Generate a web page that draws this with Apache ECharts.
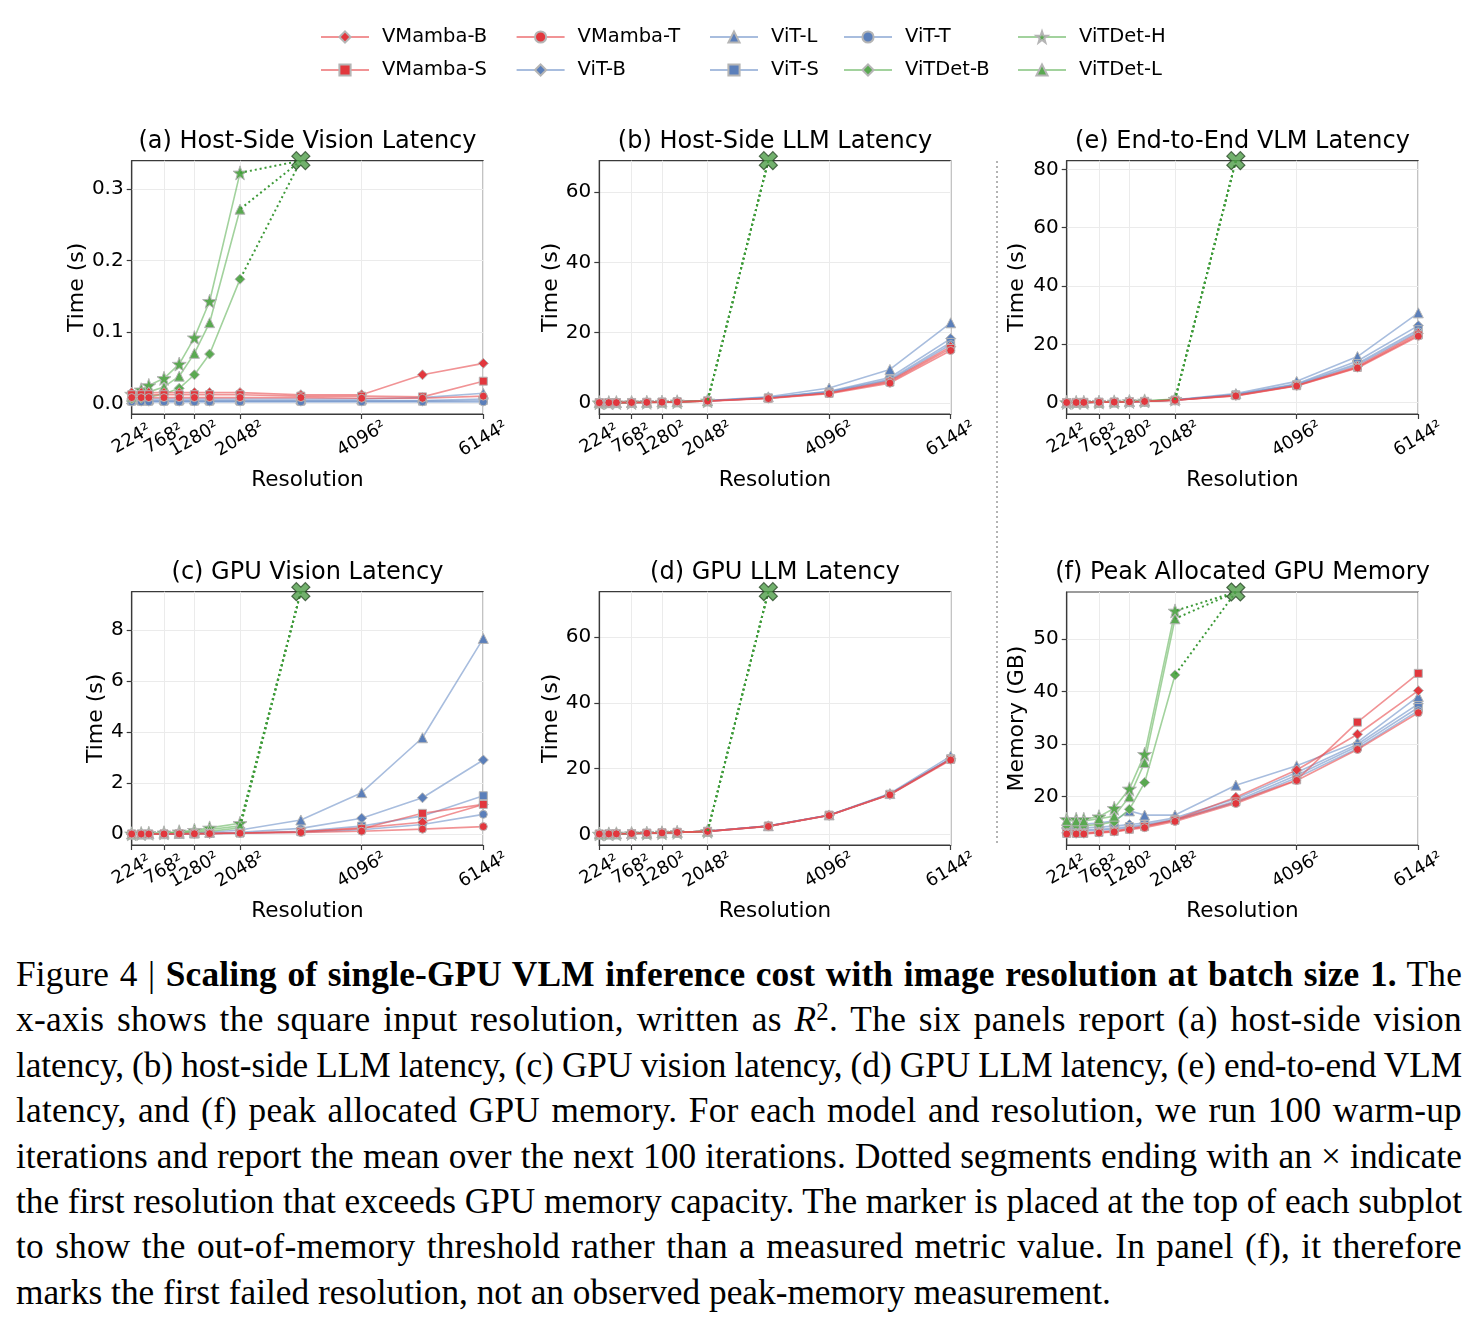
<!DOCTYPE html>
<html>
<head>
<meta charset="utf-8">
<script src="https://cdn.jsdelivr.net/npm/echarts@6/dist/echarts.min.js"></script>
<style>
html,body{margin:0;padding:0;background:#fff;}
#chart{position:absolute;left:0;top:0;width:1477px;height:940px;}
#caption{position:absolute;left:16px;top:952px;width:1446px;font-family:"Liberation Serif","Times New Roman",serif;font-size:35.3px;line-height:45.4px;color:#000;}
#caption .ln{white-space:nowrap;}
#caption sup{font-size:0.7em;line-height:0;vertical-align:0.45em;}
</style>
</head>
<body>
<div id="chart"></div>
<div id="caption">
<div class="ln"><span>Figure 4 | <b>Scaling of single-GPU VLM inference cost with image resolution at batch size 1.</b> The</span></div>
<div class="ln"><span>x-axis shows the square input resolution, written as <i>R</i><sup>2</sup>. The six panels report (a) host-side vision</span></div>
<div class="ln"><span>latency, (b) host-side LLM latency, (c) GPU vision latency, (d) GPU LLM latency, (e) end-to-end VLM</span></div>
<div class="ln"><span>latency, and (f) peak allocated GPU memory. For each model and resolution, we run 100 warm-up</span></div>
<div class="ln"><span>iterations and report the mean over the next 100 iterations. Dotted segments ending with an × indicate</span></div>
<div class="ln"><span>the first resolution that exceeds GPU memory capacity. The marker is placed at the top of each subplot</span></div>
<div class="ln"><span>to show the out-of-memory threshold rather than a measured metric value. In panel (f), it therefore</span></div>
<div class="ln last"><span>marks the first failed resolution, not an observed peak-memory measurement.</span></div>
</div>
<script>
// ---------------- DATA ----------------
const resolutions = [224, 384, 512, 768, 1024, 1280, 1536, 2048, 3072, 4096, 5120, 6144];
const xTickValues = [224, 768, 1280, 2048, 4096, 6144];
const oomResolution = 3072;
const models = ['VMamba-B','VMamba-S','VMamba-T','ViT-B','ViT-L','ViT-S','ViT-T','ViTDet-B','ViTDet-H','ViTDet-L'];
const oomModels = ['ViTDet-B','ViTDet-H','ViTDet-L'];

// (a) Host-side vision latency (s)
const hostVision = {
  'VMamba-B': [0.015,0.015,0.015,0.015,0.015,0.015,0.015,0.015,0.012,0.012,0.040,0.056],
  'VMamba-S': [0.012,0.012,0.012,0.012,0.012,0.012,0.012,0.012,0.010,0.010,0.009,0.031],
  'VMamba-T': [0.008,0.008,0.008,0.008,0.008,0.008,0.008,0.008,0.008,0.007,0.007,0.010],
  'ViT-B':    [0.004,0.004,0.004,0.004,0.004,0.004,0.004,0.004,0.004,0.004,0.004,0.006],
  'ViT-L':    [0.006,0.006,0.006,0.006,0.006,0.006,0.006,0.006,0.006,0.006,0.008,0.014],
  'ViT-S':    [0.003,0.003,0.003,0.003,0.003,0.003,0.003,0.003,0.003,0.003,0.003,0.004],
  'ViT-T':    [0.002,0.002,0.002,0.002,0.002,0.002,0.002,0.002,0.002,0.002,0.002,0.002],
  'ViTDet-B': [0.006,0.007,0.009,0.013,0.021,0.040,0.069,0.174],
  'ViTDet-H': [0.013,0.019,0.025,0.035,0.055,0.092,0.143,0.323],
  'ViTDet-L': [0.009,0.012,0.016,0.023,0.038,0.070,0.113,0.272]
};
// (b) Host-side LLM latency (s)
const hostLLM = {
  'VMamba-B': [0.03,0.04,0.06,0.09,0.13,0.19,0.27,0.52,1.3,2.8,6.2,16.0],
  'VMamba-S': [0.03,0.04,0.05,0.08,0.12,0.18,0.26,0.50,1.3,2.7,5.9,15.5],
  'VMamba-T': [0.03,0.04,0.05,0.08,0.12,0.17,0.25,0.48,1.2,2.6,5.6,14.9],
  'ViT-B':    [0.04,0.05,0.06,0.09,0.14,0.20,0.29,0.56,1.5,3.3,7.2,18.3],
  'ViT-L':    [0.04,0.05,0.07,0.10,0.15,0.22,0.32,0.60,1.7,4.2,9.5,22.8],
  'ViT-S':    [0.03,0.04,0.06,0.09,0.13,0.19,0.28,0.54,1.4,3.1,6.7,17.2],
  'ViT-T':    [0.03,0.04,0.05,0.08,0.13,0.19,0.27,0.52,1.4,3.0,6.4,16.6],
  'ViTDet-B': [0.03,0.04,0.05,0.08,0.12,0.18,0.26,0.50],
  'ViTDet-H': [0.04,0.05,0.06,0.09,0.14,0.20,0.29,0.56],
  'ViTDet-L': [0.03,0.04,0.06,0.09,0.13,0.19,0.28,0.53]
};
// (c) GPU vision latency (s)
const gpuVision = {
  'VMamba-B': [0.01,0.01,0.01,0.015,0.02,0.025,0.03,0.05,0.10,0.25,0.47,1.17],
  'VMamba-S': [0.01,0.01,0.01,0.015,0.02,0.025,0.03,0.05,0.10,0.22,0.82,1.17],
  'VMamba-T': [0.01,0.01,0.01,0.012,0.015,0.02,0.025,0.04,0.07,0.12,0.20,0.30],
  'ViT-B':    [0.01,0.01,0.01,0.015,0.02,0.03,0.04,0.08,0.23,0.63,1.43,2.91],
  'ViT-L':    [0.01,0.01,0.015,0.02,0.03,0.05,0.08,0.17,0.56,1.63,3.78,7.67],
  'ViT-S':    [0.01,0.01,0.01,0.012,0.015,0.02,0.03,0.05,0.12,0.32,0.72,1.51],
  'ViT-T':    [0.01,0.01,0.01,0.012,0.015,0.02,0.025,0.04,0.08,0.18,0.38,0.78],
  'ViTDet-B': [0.01,0.015,0.02,0.03,0.05,0.08,0.12,0.25],
  'ViTDet-H': [0.02,0.03,0.04,0.06,0.10,0.16,0.25,0.43],
  'ViTDet-L': [0.015,0.02,0.03,0.05,0.08,0.12,0.19,0.33]
};
// (d) GPU LLM latency (s)
const gpuLLM = {
  'VMamba-B': [0.10,0.12,0.15,0.25,0.35,0.45,0.60,0.90,2.5,5.8,12.2,22.9],
  'VMamba-S': [0.10,0.12,0.15,0.24,0.34,0.45,0.60,0.90,2.5,5.8,12.1,22.8],
  'VMamba-T': [0.10,0.12,0.15,0.24,0.34,0.44,0.59,0.88,2.4,5.7,12.0,22.6],
  'ViT-B':    [0.10,0.12,0.15,0.25,0.35,0.46,0.61,0.92,2.5,5.8,12.2,23.1],
  'ViT-L':    [0.11,0.13,0.16,0.26,0.36,0.47,0.62,0.95,2.6,5.9,12.4,23.8],
  'ViT-S':    [0.10,0.12,0.15,0.25,0.35,0.45,0.60,0.91,2.5,5.8,12.2,23.0],
  'ViT-T':    [0.10,0.12,0.15,0.25,0.35,0.45,0.60,0.90,2.5,5.8,12.2,22.9],
  'ViTDet-B': [0.10,0.12,0.15,0.25,0.35,0.45,0.60,0.90],
  'ViTDet-H': [0.11,0.13,0.16,0.26,0.36,0.47,0.62,0.95],
  'ViTDet-L': [0.10,0.12,0.15,0.25,0.35,0.46,0.61,0.92]
};
// (e) End-to-end VLM latency (s)
const endToEnd = {
  'VMamba-B': [0.05,0.07,0.09,0.13,0.20,0.30,0.42,0.85,2.5,5.9,12.4,23.8],
  'VMamba-S': [0.05,0.07,0.09,0.13,0.20,0.29,0.41,0.82,2.4,5.8,12.1,23.2],
  'VMamba-T': [0.05,0.06,0.08,0.12,0.19,0.28,0.40,0.80,2.3,5.7,11.9,22.8],
  'ViT-B':    [0.05,0.07,0.09,0.14,0.21,0.32,0.46,0.92,2.8,6.5,14.3,26.4],
  'ViT-L':    [0.06,0.08,0.10,0.15,0.23,0.35,0.50,1.00,3.1,7.3,15.8,30.8],
  'ViT-S':    [0.05,0.07,0.09,0.13,0.21,0.31,0.44,0.88,2.7,6.2,13.4,25.0],
  'ViT-T':    [0.05,0.07,0.09,0.13,0.20,0.30,0.43,0.86,2.6,6.0,12.9,24.3],
  'ViTDet-B': [0.05,0.07,0.09,0.14,0.22,0.34,0.49,0.95],
  'ViTDet-H': [0.07,0.09,0.12,0.18,0.27,0.42,0.60,1.20],
  'ViTDet-L': [0.06,0.08,0.10,0.16,0.25,0.38,0.55,1.10]
};
// (f) Peak allocated GPU memory (GB)
const peakMemory = {
  'VMamba-B': [13.1,13.1,13.1,13.3,13.5,13.9,14.4,15.6,19.9,25.1,31.9,40.2],
  'VMamba-S': [13.0,13.0,13.0,13.2,13.4,13.8,14.3,15.5,19.0,23.2,34.2,43.5],
  'VMamba-T': [12.9,12.9,12.9,13.1,13.3,13.7,14.1,15.3,18.7,23.1,29.0,36.0],
  'ViT-B':    [14.1,14.1,14.1,14.2,14.4,14.7,15.0,16.0,19.6,24.6,30.0,37.7],
  'ViT-L':    [14.8,14.8,14.8,15.0,15.4,17.3,16.5,16.5,22.2,25.9,30.4,39.1],
  'ViT-S':    [13.7,13.7,13.7,13.8,14.0,14.3,14.7,15.7,19.2,24.1,29.6,37.0],
  'ViT-T':    [13.5,13.5,13.5,13.6,13.8,14.1,14.5,15.5,18.9,23.6,29.2,36.4],
  'ViTDet-B': [14.5,14.5,14.5,14.7,15.2,17.6,22.7,43.2],
  'ViTDet-H': [15.7,15.7,15.7,16.2,17.8,21.5,28.1,55.4],
  'ViTDet-L': [15.5,15.4,15.4,15.8,16.3,20.0,26.5,53.9]
};

// y-axis ranges (ceiling = out-of-memory marker level) and tick labels
const yFloors   = [-0.015, -3.2, -3.9, -0.42, -3.25, 10.8];
const yCeilings = [0.34, 69, 83, 9.5, 73.8, 59.0];
const yTicks = [[0,0.1,0.2,0.3],[0,20,40,60],[0,20,40,60,80],[0,2,4,6,8],[0,20,40,60],[20,30,40,50]];
const panelTitles = ['(a) Host-Side Vision Latency','(b) Host-Side LLM Latency','(e) End-to-End VLM Latency','(c) GPU Vision Latency','(d) GPU LLM Latency','(f) Peak Allocated GPU Memory'];
const yNames = ['Time (s)','Time (s)','Time (s)','Time (s)','Time (s)','Memory (GB)'];
const panelData = [hostVision, hostLLM, endToEnd, gpuVision, gpuLLM, peakMemory];

// ---------------- STYLE / LAYOUT ----------------
const FONT = 'DejaVu Sans';
const gridBoxes = [
  {left:131.7, top:160.7, width:351.6, height:253.3},
  {left:599.3, top:160.7, width:351.4, height:253.3},
  {left:1066.7, top:160.7, width:351.6, height:253.3},
  {left:131.7, top:591.7, width:351.6, height:253.3},
  {left:599.3, top:591.7, width:351.4, height:253.3},
  {left:1066.7, top:592, width:351.6, height:253}
];
const yNameGaps = [43, 37, 38, 24, 37, 38];
const yDecimals = [1,0,0,0,0,0];
const STAR = 'path://M0,-10 L2.35,-3.24 9.51,-3.09 3.8,1.24 5.88,8.09 0,4 -5.88,8.09 -3.8,1.24 -9.51,-3.09 -2.35,-3.24 Z';
const CROSS = 'path://M-3,-6 L0,-3 L3,-6 L6,-3 L3,0 L6,3 L3,6 L0,3 L-3,6 L-6,3 L-3,0 L-6,-3 Z';
const families = {
  VMamba: {marker:'#e2373d', line:'rgba(232,80,84,0.62)', z:4},
  ViT:    {marker:'#5b7fba', line:'rgba(110,145,200,0.6)', z:2},
  ViTDet: {marker:'#5aa951', line:'rgba(100,180,92,0.6)', z:3}
};
function famOf(m){ return m.startsWith('VMamba') ? 'VMamba' : (m.startsWith('ViTDet') ? 'ViTDet' : 'ViT'); }
function symOf(m){
  const s = m.split('-')[1];
  if (s === 'B') return ['diamond', 10];
  if (s === 'S') return ['rect', 8];
  if (s === 'T') return ['circle', 8];
  if (s === 'L') return ['triangle', 10];
  return [STAR, 14];
}
// alternate tick labels split over two stacked bottom axes so neighbouring rotated labels are never auto-hidden
const labelSetA = xTickValues.filter((v, k) => k % 2 === 0);
const labelSetB = xTickValues.filter((v, k) => k % 2 === 1);
const xLabelStyle = {rotate:30, align:'center', verticalAlign:'middle', margin:25,
  showMinLabel:true, showMaxLabel:true, hideOverlap:false,
  fontFamily:FONT, fontSize:18, color:'#000', formatter: v => v + '²'};

const grids = [], xAxes = [], yAxes = [], titles = [], series = [];
gridBoxes.forEach((g, i) => {
  grids.push(Object.assign({show:true, borderColor:'#3a3a3a', borderWidth:1.2, backgroundColor:'transparent'}, g));
  titles.push({text: panelTitles[i], left: g.left + g.width/2, top: g.top - 31, textAlign:'center', padding:0,
    textStyle:{fontFamily:FONT, fontSize:24, fontWeight:'normal', color:'#000'}});
  xAxes.push({type:'value', gridIndex:i, position:'bottom', offset:0, min:224, max:6144,
    name:'Resolution', nameLocation:'middle', nameGap:55,
    nameTextStyle:{fontFamily:FONT, fontSize:21.5, color:'#000'},
    axisLine:{show:true, onZero:false, lineStyle:{color:'#3a3a3a', width:1.2}},
    axisTick:{show:true, customValues:xTickValues, length:5, lineStyle:{color:'#3a3a3a', width:1.2}},
    axisLabel:Object.assign({customValues:labelSetA}, xLabelStyle),
    splitLine:{show:true, lineStyle:{color:'#ebebeb', width:1}}
  });
  xAxes.push({type:'value', gridIndex:i, position:'bottom', offset:0, min:224, max:6144,
    axisLine:{show:false, onZero:false}, axisTick:{show:false}, splitLine:{show:false},
    axisLabel:Object.assign({customValues:labelSetB}, xLabelStyle)
  });
  yAxes.push({type:'value', gridIndex:i, min:yFloors[i], max:yCeilings[i],
    name:yNames[i], nameLocation:'middle', nameGap:yNameGaps[i],
    nameTextStyle:{fontFamily:FONT, fontSize:22, color:'#000'},
    axisLine:{show:true, onZero:false, lineStyle:{color:'#3a3a3a', width:1.2}},
    axisTick:{show:true, customValues:yTicks[i], length:5, lineStyle:{color:'#3a3a3a', width:1.2}},
    axisLabel:{customValues:yTicks[i], margin:8, fontFamily:FONT, fontSize:20, color:'#000',
      showMinLabel:true, showMaxLabel:true, hideOverlap:false,
      formatter: v => Number(v).toFixed(yDecimals[i])},
    splitLine:{show:true, lineStyle:{color:'#ebebeb', width:1}}
  });

  const xi = 2 * i;
  const data = panelData[i];
  models.forEach(m => {
    const f = families[famOf(m)];
    const [sym, sz] = symOf(m);
    series.push({type:'line', name:m, xAxisIndex:xi, yAxisIndex:i,
      data: data[m].map((v, j) => [resolutions[j], v]),
      symbol:sym, symbolSize:sz, showSymbol:true,
      itemStyle:{color:f.marker, borderColor:'#b5b5b5', borderWidth:1},
      lineStyle:{color:f.line, width:1.6},
      z:f.z, animation:false, silent:true});
  });
  // dotted segments drawn from the OOM marker back to the last measured point (aligned dot phase)
  oomModels.forEach(m => {
    const vals = data[m];
    series.push({type:'line', xAxisIndex:xi, yAxisIndex:i,
      data:[[oomResolution, yCeilings[i]], [resolutions[vals.length-1], vals[vals.length-1]]],
      symbol:'none', lineStyle:{type:[2,3], color:'#3d9a38', width:2},
      z:5, animation:false, silent:true});
  });
  series.push({type:'scatter', xAxisIndex:xi, yAxisIndex:i, data:[[oomResolution, yCeilings[i]]],
    symbol:CROSS, symbolSize:18, clip:false,
    itemStyle:{color:'#4f9d48', borderColor:'#2b4a28', borderWidth:1.2}, z:10, animation:false, silent:true});
});

// legend: 5 columns x 2 rows, filled column by column
const legendCols = [320, 515.6, 709, 843, 1017];
const legendRows = [27, 60];
const legends = models.map((m, k) => ({
  data:[m], left: legendCols[Math.floor(k/2)], top: legendRows[k%2], padding:0,
  itemWidth:48, itemHeight:14, selectedMode:false,
  formatter: n => '{g|}' + n,
  textStyle:{fontFamily:FONT, fontSize:19.5, color:'#000', rich:{g:{width:8}}}
}));

const chart = echarts.init(document.getElementById('chart'), null, {renderer:'canvas'});
chart.setOption({
  animation:false,
  backgroundColor:'#fff',
  textStyle:{fontFamily:FONT},
  title:titles, grid:grids, xAxis:xAxes, yAxis:yAxes, legend:legends, series:series,
  graphic:[{type:'line', shape:{x1:997, y1:161, x2:997, y2:845},
    style:{stroke:'#9a9a9a', lineWidth:1.5, lineDash:[2,3]}, silent:true}]
});

// justify caption lines to the full width: share the slack between letter and word spacing
const CAP_W = 1446;
document.querySelectorAll('#caption .ln').forEach(el => {
  if (el.classList.contains('last')) return;
  const span = el.firstElementChild;
  const w = span.getBoundingClientRect().width;
  const txt = span.textContent;
  const nSp = (txt.match(/ /g) || []).length;
  const nCh = txt.length;
  const slack = CAP_W - w;
  const ls = slack * 0.4 / nCh;
  span.style.letterSpacing = ls + 'px';
  const w2 = span.getBoundingClientRect().width;
  if (nSp > 0) span.style.wordSpacing = ((CAP_W - w2) / nSp) + 'px';
});
</script>
</body>
</html>
